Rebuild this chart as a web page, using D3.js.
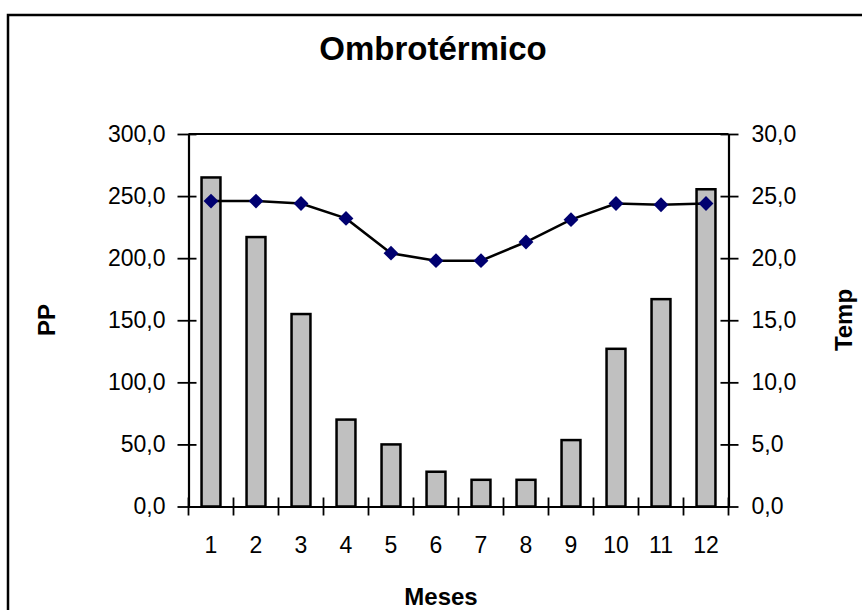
<!DOCTYPE html>
<html>
<head>
<meta charset="utf-8">
<script src="https://cdn.jsdelivr.net/npm/d3@7"></script>
<style>
  html, body { margin: 0; padding: 0; background: #fff; }
  svg { display: block; }
  text { font-family: "Liberation Sans", Arial, sans-serif; fill: #000; }
</style>
</head>
<body>
<svg id="chart" width="862" height="610"></svg>
<script>
// ---- data ----
const months = ["1","2","3","4","5","6","7","8","9","10","11","12"];
const precipitation = [265, 217, 155, 70, 50, 28, 21.5, 21.5, 53.5, 127, 167, 255.5];
const temperature = [24.6, 24.6, 24.4, 23.2, 20.4, 19.8, 19.8, 21.3, 23.1, 24.4, 24.3, 24.4];
const ppTicks = [0, 50, 100, 150, 200, 250, 300];
const tempTicks = [0, 5, 10, 15, 20, 25, 30];
const titleText = "Ombrotérmico";
const xTitle = "Meses";
const yLeftTitle = "PP";
const yRightTitle = "Temp";

// ---- layout ----
const svg = d3.select("#chart");
const L = 188.5, R = 728.5, T = 134, B = 506.5;
const fmt = d => d3.format(".1f")(d).replace(".", ",");

const x = d3.scaleBand().domain(months).range([L, R]).padding(0);
const yPP = d3.scaleLinear().domain([0, 300]).range([B, T]);
const yT = d3.scaleLinear().domain([0, 30]).range([B, T]);

// outer border (left + top)
svg.append("path")
  .attr("d", `M8,610 L8,15 L862,15`)
  .attr("fill", "none").attr("stroke", "#000").attr("stroke-width", 2.5);

// title
svg.append("text").attr("x", 433).attr("y", 60)
  .attr("text-anchor", "middle").attr("font-size", 33).attr("font-weight", "bold")
  .text(titleText);

// plot top border
svg.append("line").attr("x1", L).attr("x2", R).attr("y1", T).attr("y2", T)
  .attr("stroke", "#000").attr("stroke-width", 2);

// bars
const bw = x.bandwidth() * 0.42;
svg.append("g").selectAll("rect").data(precipitation).join("rect")
  .attr("x", (d, i) => x(months[i]) + x.bandwidth() / 2 - bw / 2)
  .attr("y", d => yPP(d))
  .attr("width", bw)
  .attr("height", d => yPP(0) - yPP(d))
  .attr("fill", "#c0c0c0").attr("stroke", "#000").attr("stroke-width", 2.5);

// left axis
const gl = svg.append("g").attr("transform", `translate(${L},0)`)
  .call(d3.axisLeft(yPP).tickValues(ppTicks).tickFormat(fmt).tickSize(0).tickPadding(23));
gl.select(".domain").attr("stroke", "#000").attr("stroke-width", 2.2);
gl.selectAll(".tick line").attr("x1", -11).attr("x2", 8).attr("stroke", "#000").attr("stroke-width", 1.8);
gl.selectAll(".tick text").attr("font-size", 23).attr("font-family", "Liberation Sans, Arial, sans-serif");

// right axis
const gr = svg.append("g").attr("transform", `translate(${R},0)`)
  .call(d3.axisRight(yT).tickValues(tempTicks).tickFormat(fmt).tickSize(0).tickPadding(23));
gr.select(".domain").attr("stroke", "#000").attr("stroke-width", 2.2);
gr.selectAll(".tick line").attr("x1", -8).attr("x2", 10).attr("stroke", "#000").attr("stroke-width", 1.8);
gr.selectAll(".tick text").attr("font-size", 23).attr("font-family", "Liberation Sans, Arial, sans-serif");

// bottom axis
const gb = svg.append("g").attr("transform", `translate(0,${B})`)
  .call(d3.axisBottom(x).tickSize(0).tickPadding(30));
gb.select(".domain").attr("stroke", "#000").attr("stroke-width", 2.2);
gb.selectAll(".tick text").attr("font-size", 23).attr("font-family", "Liberation Sans, Arial, sans-serif");
// boundary ticks (crossing)
const bounds = months.map(m => x(m)).concat([R]);
gb.append("g").selectAll("line").data(bounds).join("line")
  .attr("x1", d => d).attr("x2", d => d).attr("y1", -9).attr("y2", 9)
  .attr("stroke", "#000").attr("stroke-width", 1.8);

// temperature line
const line = d3.line().x((d, i) => x(months[i]) + x.bandwidth() / 2).y(d => yT(d));
svg.append("path").datum(temperature).attr("d", line)
  .attr("fill", "none").attr("stroke", "#000").attr("stroke-width", 2.5);
svg.append("g").selectAll("path").data(temperature).join("path")
  .attr("d", d3.symbol(d3.symbolSquare, 110))
  .attr("transform", (d, i) => `translate(${x(months[i]) + x.bandwidth() / 2},${yT(d)}) rotate(45)`)
  .attr("fill", "#000070");

// axis titles
svg.append("text").attr("x", 441).attr("y", 605)
  .attr("text-anchor", "middle").attr("font-size", 24).attr("font-weight", "bold").text(xTitle);
svg.append("text").attr("transform", "translate(55,320) rotate(-90)")
  .attr("text-anchor", "middle").attr("font-size", 24).attr("font-weight", "bold").text(yLeftTitle);
svg.append("text").attr("transform", "translate(852,320) rotate(-90)")
  .attr("text-anchor", "middle").attr("font-size", 24).attr("font-weight", "bold").text(yRightTitle);
</script>
</body>
</html>
